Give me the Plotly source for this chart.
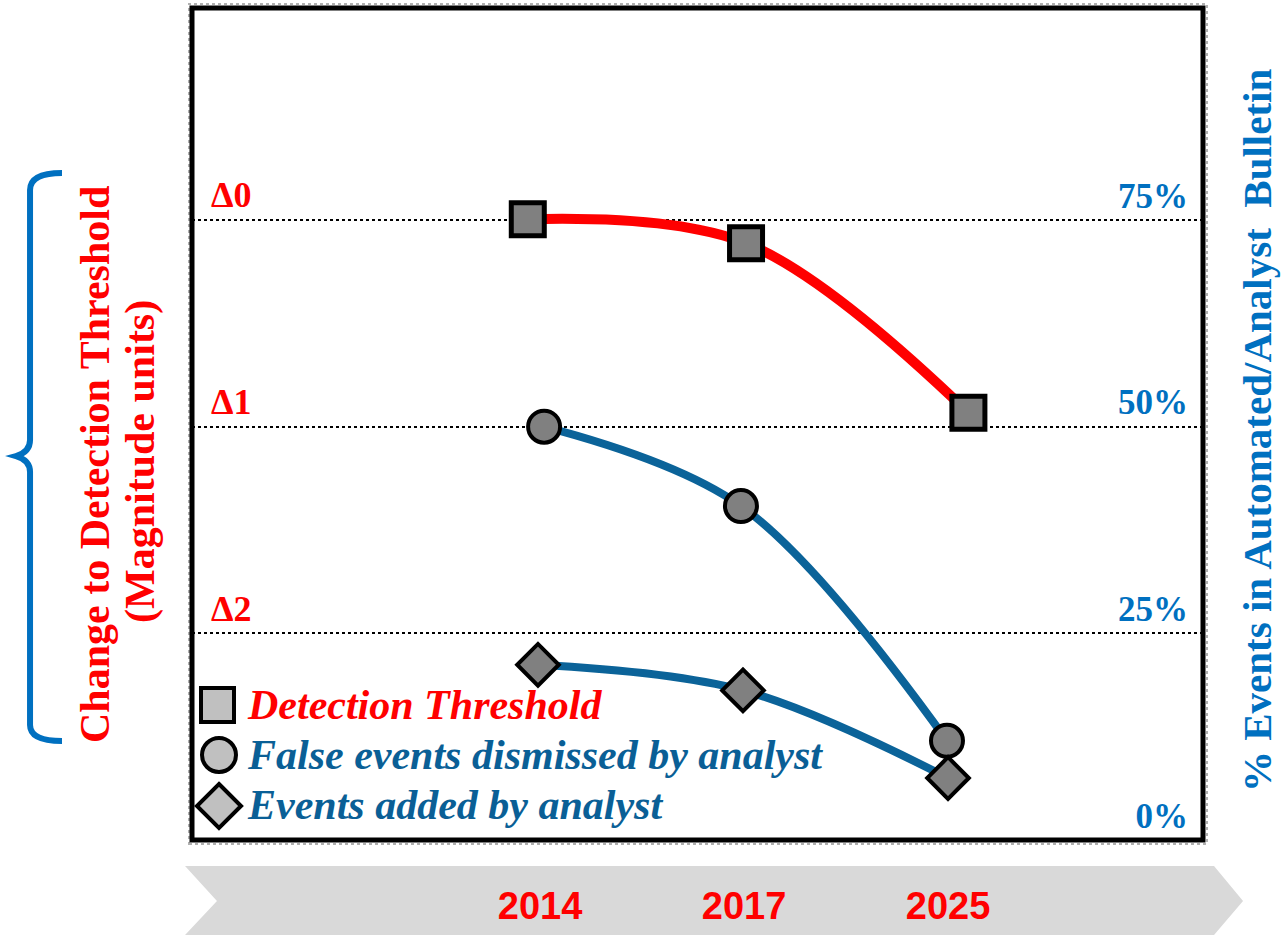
import plotly.graph_objects as go

# --- data ---
years = ["2014", "2017", "2025"]
year_pos = [0, 1, 2]

# marker positions along the time arrow (in year-slot units) and values (% scale)
threshold_pos = [-0.06, 1.01, 2.10]
threshold_val = [75.1, 72.2, 51.7]

dismissed_pos = [0.02, 0.985, 1.995]
dismissed_val = [50.0, 40.4, 12.0]

added_pos = [-0.01, 0.995, 2.0]
added_val = [21.2, 18.1, 7.5]

delta_ticks = [25, 50, 75]
delta_labels = ["Δ2", "Δ1", "Δ0"]
pct_ticks = [0, 25, 50, 75]
pct_labels = ["0%", "25%", "50%", "75%"]

legend_names = ["Detection Threshold", "False events dismissed by analyst", "Events added by analyst"]

RED = "#ff0000"
BLUE_LINE = "#0b6399"
BLUE_TXT = "#0a5f96"
AXIS_BLUE = "#0070c0"
GREY = "#808080"
SERIF = "Liberation Serif, Times New Roman, serif"

# figure geometry (pixels) used for decorations outside the data
W, H = 1286, 935
L, R, T, B = 192, 83, 8, 95
PW, PH = W - L - R, H - T - B


def px(x):
    return (x - L) / PW


def py(y):
    return (H - B - y) / PH


fig = go.Figure()

fig.add_trace(go.Scatter(
    x=threshold_pos, y=threshold_val, mode="lines+markers",
    line=dict(color=RED, width=10, shape="spline"),
    marker=dict(symbol="square", size=33, color=GREY, line=dict(color="black", width=5)),
    yaxis="y", showlegend=False, hoverinfo="skip"))

fig.add_trace(go.Scatter(
    x=dismissed_pos, y=dismissed_val, mode="lines+markers",
    line=dict(color=BLUE_LINE, width=8, shape="spline"),
    marker=dict(symbol="circle", size=32, color=GREY, line=dict(color="black", width=4)),
    yaxis="y2", showlegend=False, hoverinfo="skip"))

fig.add_trace(go.Scatter(
    x=added_pos, y=added_val, mode="lines+markers",
    line=dict(color=BLUE_LINE, width=8, shape="spline"),
    marker=dict(symbol="diamond", size=32, color=GREY, line=dict(color="black", width=4)),
    yaxis="y2", showlegend=False, hoverinfo="skip"))

shapes = []

# grey arrow band under the years
chev = [(185, 866), (1214, 866), (1243, 901), (1214, 935), (185, 935), (217, 901)]
path = "M " + " L ".join(f"{px(a):.4f},{py(b):.4f}" for a, b in chev) + " Z"
shapes.append(dict(type="path", xref="paper", yref="paper", path=path,
                   fillcolor="#d9d9d9", line=dict(width=0), layer="below"))

# blue brace on the far left
brace = (f"M {px(62):.4f},{py(173):.4f} "
         f"Q {px(30):.4f},{py(173):.4f} {px(30):.4f},{py(190):.4f} "
         f"L {px(30):.4f},{py(440):.4f} "
         f"Q {px(30):.4f},{py(452):.4f} {px(16):.4f},{py(456):.4f} "
         f"Q {px(30):.4f},{py(460):.4f} {px(30):.4f},{py(472):.4f} "
         f"L {px(30):.4f},{py(725):.4f} "
         f"Q {px(30):.4f},{py(741):.4f} {px(62):.4f},{py(741):.4f}")
shapes.append(dict(type="path", xref="paper", yref="paper", path=brace,
                   line=dict(color=AXIS_BLUE, width=6)))

# plot frame
shapes.append(dict(type="rect", xref="paper", yref="paper", x0=px(189), x1=px(1207),
                   y0=py(844), y1=py(4), line=dict(color="#b0b0b0", width=2, dash="dot")))
shapes.append(dict(type="rect", xref="paper", yref="paper", x0=0, x1=1, y0=0, y1=1,
                   line=dict(color="black", width=5), layer="above"))

# legend icons
shapes.append(dict(type="rect", xref="paper", yref="paper", x0=px(201), x1=px(234),
                   y0=py(722), y1=py(688), fillcolor="#c0c0c0", line=dict(color="black", width=4)))
shapes.append(dict(type="circle", xref="paper", yref="paper", x0=px(202), x1=px(236),
                   y0=py(772), y1=py(738), fillcolor="#c0c0c0", line=dict(color="black", width=4)))
dia = f"M {px(219):.4f},{py(784):.4f} L {px(241):.4f},{py(806):.4f} L {px(219):.4f},{py(828):.4f} L {px(197):.4f},{py(806):.4f} Z"
shapes.append(dict(type="path", xref="paper", yref="paper", path=dia,
                   fillcolor="#c0c0c0", line=dict(color="black", width=4)))

annotations = []
leg_colors = [RED, BLUE_TXT, BLUE_TXT]
leg_y = [705, 755, 805]
for name, col, yy in zip(legend_names, leg_colors, leg_y):
    annotations.append(dict(xref="paper", yref="paper", x=px(245), y=py(yy), xanchor="left",
                            yanchor="middle", text=name, showarrow=False,
                            font=dict(family=SERIF, size=42, color=col, weight="bold", style="italic")))

# axis titles
annotations.append(dict(xref="paper", yref="paper", x=px(95), y=py(465), text="Change to Detection Threshold",
                        textangle=-90, showarrow=False, xanchor="center", yanchor="middle",
                        font=dict(family=SERIF, size=42, color=RED, weight="bold")))
annotations.append(dict(xref="paper", yref="paper", x=px(141), y=py(462), text="(Magnitude units)",
                        textangle=-90, showarrow=False, xanchor="center", yanchor="middle",
                        font=dict(family=SERIF, size=42, color=RED, weight="bold")))
annotations.append(dict(xref="paper", yref="paper", x=px(1257), y=py(431),
                        text="% Events in Automated/Analyst&nbsp; Bulletin",
                        textangle=-90, showarrow=False, xanchor="center", yanchor="middle",
                        font=dict(family=SERIF, size=41, color=AXIS_BLUE, weight="bold")))

fig.update_layout(
    width=W, height=H,
    margin=dict(l=L, r=R, t=T, b=B),
    paper_bgcolor="white", plot_bgcolor="white",
    shapes=shapes, annotations=annotations,
    xaxis=dict(range=[-1.706, 3.25], tickvals=year_pos, ticktext=years,
               showgrid=False, zeroline=False, ticks="", showline=False,
               ticklabelstandoff=40,
               tickfont=dict(family="Liberation Sans, Arial, sans-serif",
                             size=38, color=RED, weight="bold")),
    yaxis=dict(range=[0, 100.65], tickvals=delta_ticks, ticktext=delta_labels,
               showgrid=True, gridcolor="black", gridwidth=2, griddash="dot",
               zeroline=False, ticks="", showline=False,
               ticklabelposition="inside top", ticklabelstandoff=16,
               tickfont=dict(family=SERIF, size=36, color=RED, weight="bold")),
    yaxis2=dict(range=[0, 100.65], overlaying="y", side="right",
                tickvals=pct_ticks, ticktext=pct_labels,
                showgrid=False, zeroline=False, ticks="", showline=False,
                ticklabelposition="inside top", ticklabelstandoff=12,
                tickfont=dict(family=SERIF, size=35, color=AXIS_BLUE, weight="bold")),
)

# page body has a default 8px margin; drop it so the figure sits at the window's corner
fig.write_html("out.html", config={"displayModeBar": False},
               post_script="document.body.style.margin='0px';")
